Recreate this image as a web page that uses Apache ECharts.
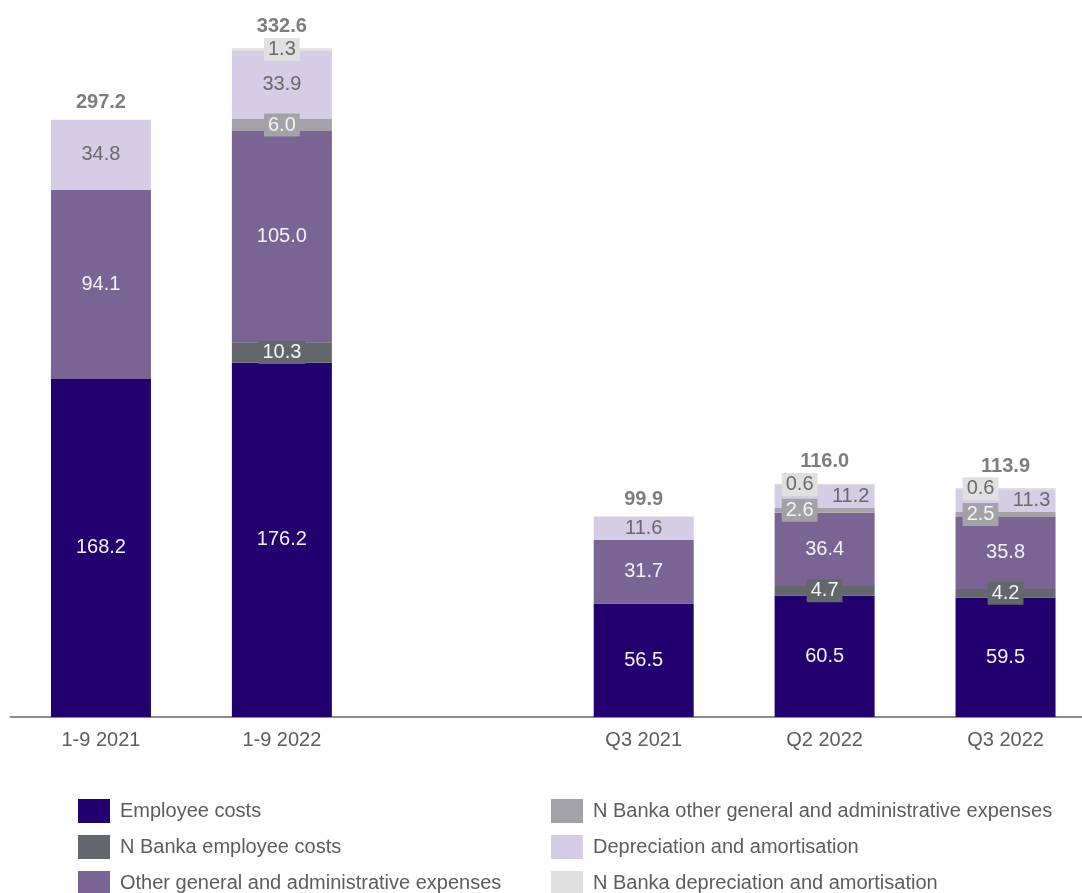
<!DOCTYPE html>
<html>
<head>
<meta charset="utf-8">
<title>Operating expenses</title>
<script src="https://cdn.jsdelivr.net/npm/echarts@6/dist/echarts.min.js"></script>
<style>
  html, body { margin: 0; padding: 0; background: #ffffff; overflow: hidden; }
  /* The canvas runs slightly past the right edge of the page, so the last bar column is trimmed */
  #chart { width: 1096px; height: 893px; }
</style>
</head>
<body>
<div id="chart"></div>
<script>
// Periods on the x axis; the empty slot separates year-to-date from quarterly bars
const categories = ['1-9 2021', '1-9 2022', '', 'Q3 2021', 'Q2 2022', 'Q3 2022'];

// Expense components (EUR m), '-' where a component is absent
const employeeCosts      = [168.2, 176.2, '-', 56.5, 60.5, 59.5];
const nBankaEmployee     = ['-',   10.3,  '-', '-',  4.7,  4.2];
const otherGA            = [94.1,  105.0, '-', 31.7, 36.4, 35.8];
const nBankaOtherGA      = ['-',   6.0,   '-', '-',  2.6,  2.5];
const depreciation       = [34.8,  33.9,  '-', 11.6, 11.2, 11.3];
const nBankaDepreciation = ['-',   1.3,   '-', '-',  0.6,  0.6];

// Stated totals above each bar
const totals = [297.2, 332.6, '-', 99.9, 116.0, 113.9];

const seriesNames = [
  'Employee costs',
  'N Banka employee costs',
  'Other general and administrative expenses',
  'N Banka other general and administrative expenses',
  'Depreciation and amortisation',
  'N Banka depreciation and amortisation'
];

const colors = ['#22006f', '#63666a', '#7a6494', '#a3a3a7', '#d4cde5', '#e0e0e0'];
const textGray = '#5c5c5c';
const FONT = 'Liberation Sans, Arial, sans-serif';

// Quarterly bars where the thin N Banka slices are labelled beside the depreciation value
const sideBySide = ['Q2 2022', 'Q3 2022'];

function labelledData(values, offsetX) {
  return values.map((v, i) => {
    if (v === '-') return v;
    const item = { value: v };
    if (offsetX && sideBySide.includes(categories[i])) {
      item.label = { offset: [offsetX, 0] };
    }
    return item;
  });
}

function plainLabel(color) {
  return {
    show: true,
    position: 'inside',
    color: color,
    fontFamily: FONT,
    fontSize: 20,
    formatter: p => Number(p.value).toFixed(1)
  };
}

function boxLabel(color, bg) {
  return {
    show: true,
    position: 'inside',
    color: color,
    backgroundColor: bg,
    padding: [2, 4, 1, 4],
    fontFamily: FONT,
    fontSize: 20,
    formatter: p => Number(p.value).toFixed(1)
  };
}

function barSeries(idx, values, label, offsetX) {
  return {
    name: seriesNames[idx],
    type: 'bar',
    stack: 'total',
    barWidth: 100,
    itemStyle: { color: colors[idx] },
    label: label,
    data: labelledData(values, offsetX),
    z: 2
  };
}

const series = [
  barSeries(0, employeeCosts, plainLabel('#f4f2f8')),
  barSeries(1, nBankaEmployee, boxLabel('#f4f4f4', colors[1])),
  barSeries(2, otherGA, plainLabel('#f4f2f8')),
  barSeries(3, nBankaOtherGA, boxLabel('#f4f4f4', colors[3]), -25),
  barSeries(4, depreciation, plainLabel('#6a6a6a'), 26),
  barSeries(5, nBankaDepreciation, boxLabel('#6a6a6a', colors[5]), -25),
  {
    // Totals sit just above the top of each stack
    name: 'Total',
    type: 'scatter',
    symbolSize: 0,
    silent: true,
    z: 5,
    data: totals.map((v, i) => {
      if (v === '-') return v;
      const lifted = nBankaDepreciation[i] !== '-';
      return { value: v, label: { distance: lifted ? 12 : 7 } };
    }),
    label: {
      show: true,
      position: 'top',
      color: textGray,
      fontFamily: FONT,
      fontSize: 20,
      fontWeight: 'bold',
      formatter: p => Number(p.value).toFixed(1)
    }
  }
];

const legendText = { color: textGray, fontFamily: FONT, fontSize: 20, padding: [0, 0, 0, 5] };

function legendColumn(left, names) {
  return {
    orient: 'vertical',
    left: left,
    top: 799,
    height: 140,
    padding: 0,
    itemWidth: 32,
    itemHeight: 24,
    itemGap: 12,
    icon: 'rect',
    selectedMode: false,
    textStyle: legendText,
    data: names
  };
}

const option = {
  animation: false,
  backgroundColor: '#ffffff',
  grid: { left: 10.5, right: 0, top: 13.5, bottom: 176, containLabel: false },
  xAxis: {
    type: 'category',
    data: categories,
    axisLine: { show: true, lineStyle: { color: '#8c8c8c', width: 2 } },
    axisTick: { show: false },
    axisLabel: { color: textGray, fontFamily: FONT, fontSize: 20, margin: 13 }
  },
  yAxis: {
    type: 'value',
    min: 0,
    max: 350,
    show: false,
    splitLine: { show: false }
  },
  legend: [
    legendColumn(78, seriesNames.slice(0, 3)),
    legendColumn(551, seriesNames.slice(3, 6))
  ],
  series: series
};

const chart = echarts.init(document.getElementById('chart'), null, { renderer: 'canvas' });
chart.setOption(option);
</script>
</body>
</html>
